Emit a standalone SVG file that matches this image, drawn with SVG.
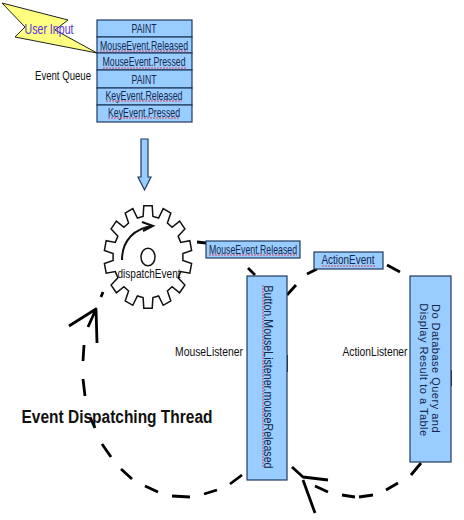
<svg xmlns="http://www.w3.org/2000/svg" width="464" height="520" viewBox="0 0 464 520">
<style>
.box{fill:#99ccff;stroke:#1f3a5f;stroke-width:1.2}
.t{font-family:"Liberation Sans",Arial,sans-serif;font-size:13px;fill:#111;text-anchor:middle}
.q{fill:#14284d}
.sq{stroke:#d8475a;stroke-width:1;stroke-dasharray:2 1;fill:none}
.d{fill:none;stroke:#000;stroke-width:2.8;stroke-linecap:butt;stroke-linejoin:round}
</style>
<rect width="464" height="520" fill="#fff"/>
<g id="lightning"><polygon points="2,3 68,20 55,30 97,53 15,37 25,27" fill="#ffff80" stroke="#222" stroke-width="1"/>
<text class="t" x="49" y="34" style="fill:#5a32d8;font-size:14px" textLength="49" lengthAdjust="spacingAndGlyphs">User Input</text></g>
<g id="event-queue">
<rect class="box" x="97" y="20" width="95" height="17"/><rect class="box" x="97" y="37" width="95" height="16"/><rect class="box" x="97" y="53" width="95" height="17"/><rect class="box" x="97" y="70" width="95" height="18"/><rect class="box" x="97" y="88" width="95" height="17"/><rect class="box" x="97" y="105" width="95" height="17"/>
<text class="t q" x="144" y="33" textLength="25" lengthAdjust="spacingAndGlyphs">PAINT</text>
<text class="t q" x="144" y="50" textLength="88" lengthAdjust="spacingAndGlyphs">MouseEvent.Released</text>
<text class="t q" x="144" y="66" textLength="83" lengthAdjust="spacingAndGlyphs">MouseEvent.Pressed</text>
<text class="t q" x="144" y="84" textLength="25" lengthAdjust="spacingAndGlyphs">PAINT</text>
<text class="t q" x="144" y="100" textLength="77" lengthAdjust="spacingAndGlyphs">KeyEvent.Released</text>
<text class="t q" x="144" y="117" textLength="72" lengthAdjust="spacingAndGlyphs">KeyEvent.Pressed</text>
<path class="sq" d="M100 51H188M103 68H186M106 101H182M108 118H180"/>
</g>
<g id="event-queue-label"><text class="t" x="63" y="80" textLength="56" lengthAdjust="spacingAndGlyphs">Event Queue</text></g>
<g id="queue-arrow"><polygon points="141,139 148,139 148,177 151,177 144.500,190 138,177 141,177" fill="#99ccff" stroke="#1f3a5f" stroke-width="1.200"/></g>
<g id="gear">
<polygon fill="#fff" stroke="#111" stroke-width="1.500" vector-effect="non-scaling-stroke" transform="translate(0 -43.700) scale(1 1.170)" points="143.800,213.200 152.200,213.200 152.900,222.300 158.600,223.700 163.200,215.700 170.800,219.400 167.400,227.900 172.100,231.600 179.600,226.400 184.900,233 178.100,239.200 180.700,244.500 189.800,243.100 191.600,251.400 182.900,254 182.900,260 191.600,262.600 189.800,270.900 180.700,269.500 178.100,274.800 184.900,281 179.600,287.600 172.100,282.400 167.400,286.100 170.800,294.600 163.200,298.300 158.600,290.300 152.900,291.700 152.200,300.800 143.800,300.800 143.100,291.700 137.400,290.300 132.800,298.300 125.200,294.600 128.600,286.100 123.900,282.400 116.400,287.600 111.100,281 117.900,274.800 115.300,269.500 106.200,270.900 104.400,262.600 113.100,260 113.100,254 104.400,251.400 106.200,243.100 115.300,244.500 117.900,239.200 111.100,233 116.400,226.400 123.900,231.600 128.600,227.900 125.200,219.400 132.800,215.700 137.400,223.700 143.100,222.300"/>
<ellipse cx="148" cy="257" rx="7" ry="8.800" fill="#fff" stroke="#111" stroke-width="1.500"/>
<path d="M122 260C122 240 135 228 153 226M142 222L153 226L143 231" fill="none" stroke="#111" stroke-width="2"/>
<text class="t" x="149" y="278" textLength="63" lengthAdjust="spacingAndGlyphs">dispatchEvent</text>
</g>
<g id="connectors">
<path class="d" d="M197 242L206 243M248 268L255 275M287 295L296 285M101 297L103 292M307 274L317 269M387 265L400 272M411 475L421 463M292 467L303 477L328 480M102 444L111 457M121 469L132 479M145 486L158 492M172 496L190 497M204 494L217 490M230 484L242 475M315 486L328 492M342 495L355 497M359 497L373 495M386 490L398 483M84 345L83 361M83 379L85 396M90 417L95 428"/>
<path class="d" d="M69 326L96 309L97 343M96 309L88 327M303 480L315 513"/>
<path d="M287 355V372M451 370V386" stroke="#000" stroke-width="1.500"/>
</g>
<g id="mouse-event"><rect class="box" x="206" y="241" width="94" height="17"/><text class="t q" x="253" y="254" textLength="88" lengthAdjust="spacingAndGlyphs">MouseEvent.Released</text><path class="sq" d="M209 255H297"/></g>
<g id="action-event"><rect class="box" x="314" y="252" width="69" height="17"/><text class="t q" x="348" y="264" textLength="53" lengthAdjust="spacingAndGlyphs">ActionEvent</text><path class="sq" d="M322 266H375"/></g>
<g id="button-listener"><rect class="box" x="247" y="276" width="40" height="204"/><text class="t q" transform="translate(263.500 377) rotate(90)" textLength="183" lengthAdjust="spacingAndGlyphs">Button.MouseListener.mouseReleased</text><path class="sq" d="M263 285V468"/></g>
<g id="mouse-listener-label"><text class="t" x="209" y="356" textLength="68" lengthAdjust="spacingAndGlyphs">MouseListener</text></g>
<g id="action-listener-label"><text class="t" x="375" y="356" textLength="65" lengthAdjust="spacingAndGlyphs">ActionListener</text></g>
<g id="table-box"><rect class="box" x="410" y="276" width="41" height="186"/>
<text class="t q" style="font-size:11px;letter-spacing:.5px" transform="translate(431.500 368.500) rotate(90)">Do Database Query and</text>
<text class="t q" style="font-size:11px;letter-spacing:.5px" transform="translate(420 370) rotate(90)">Display Result to a Table</text></g>
<g id="thread-label"><text x="117" y="423" font-family="'Liberation Sans',Arial,sans-serif" font-weight="700" font-size="18" text-anchor="middle" fill="#111" textLength="191" lengthAdjust="spacingAndGlyphs">Event Dispatching Thread</text></g>
</svg>
